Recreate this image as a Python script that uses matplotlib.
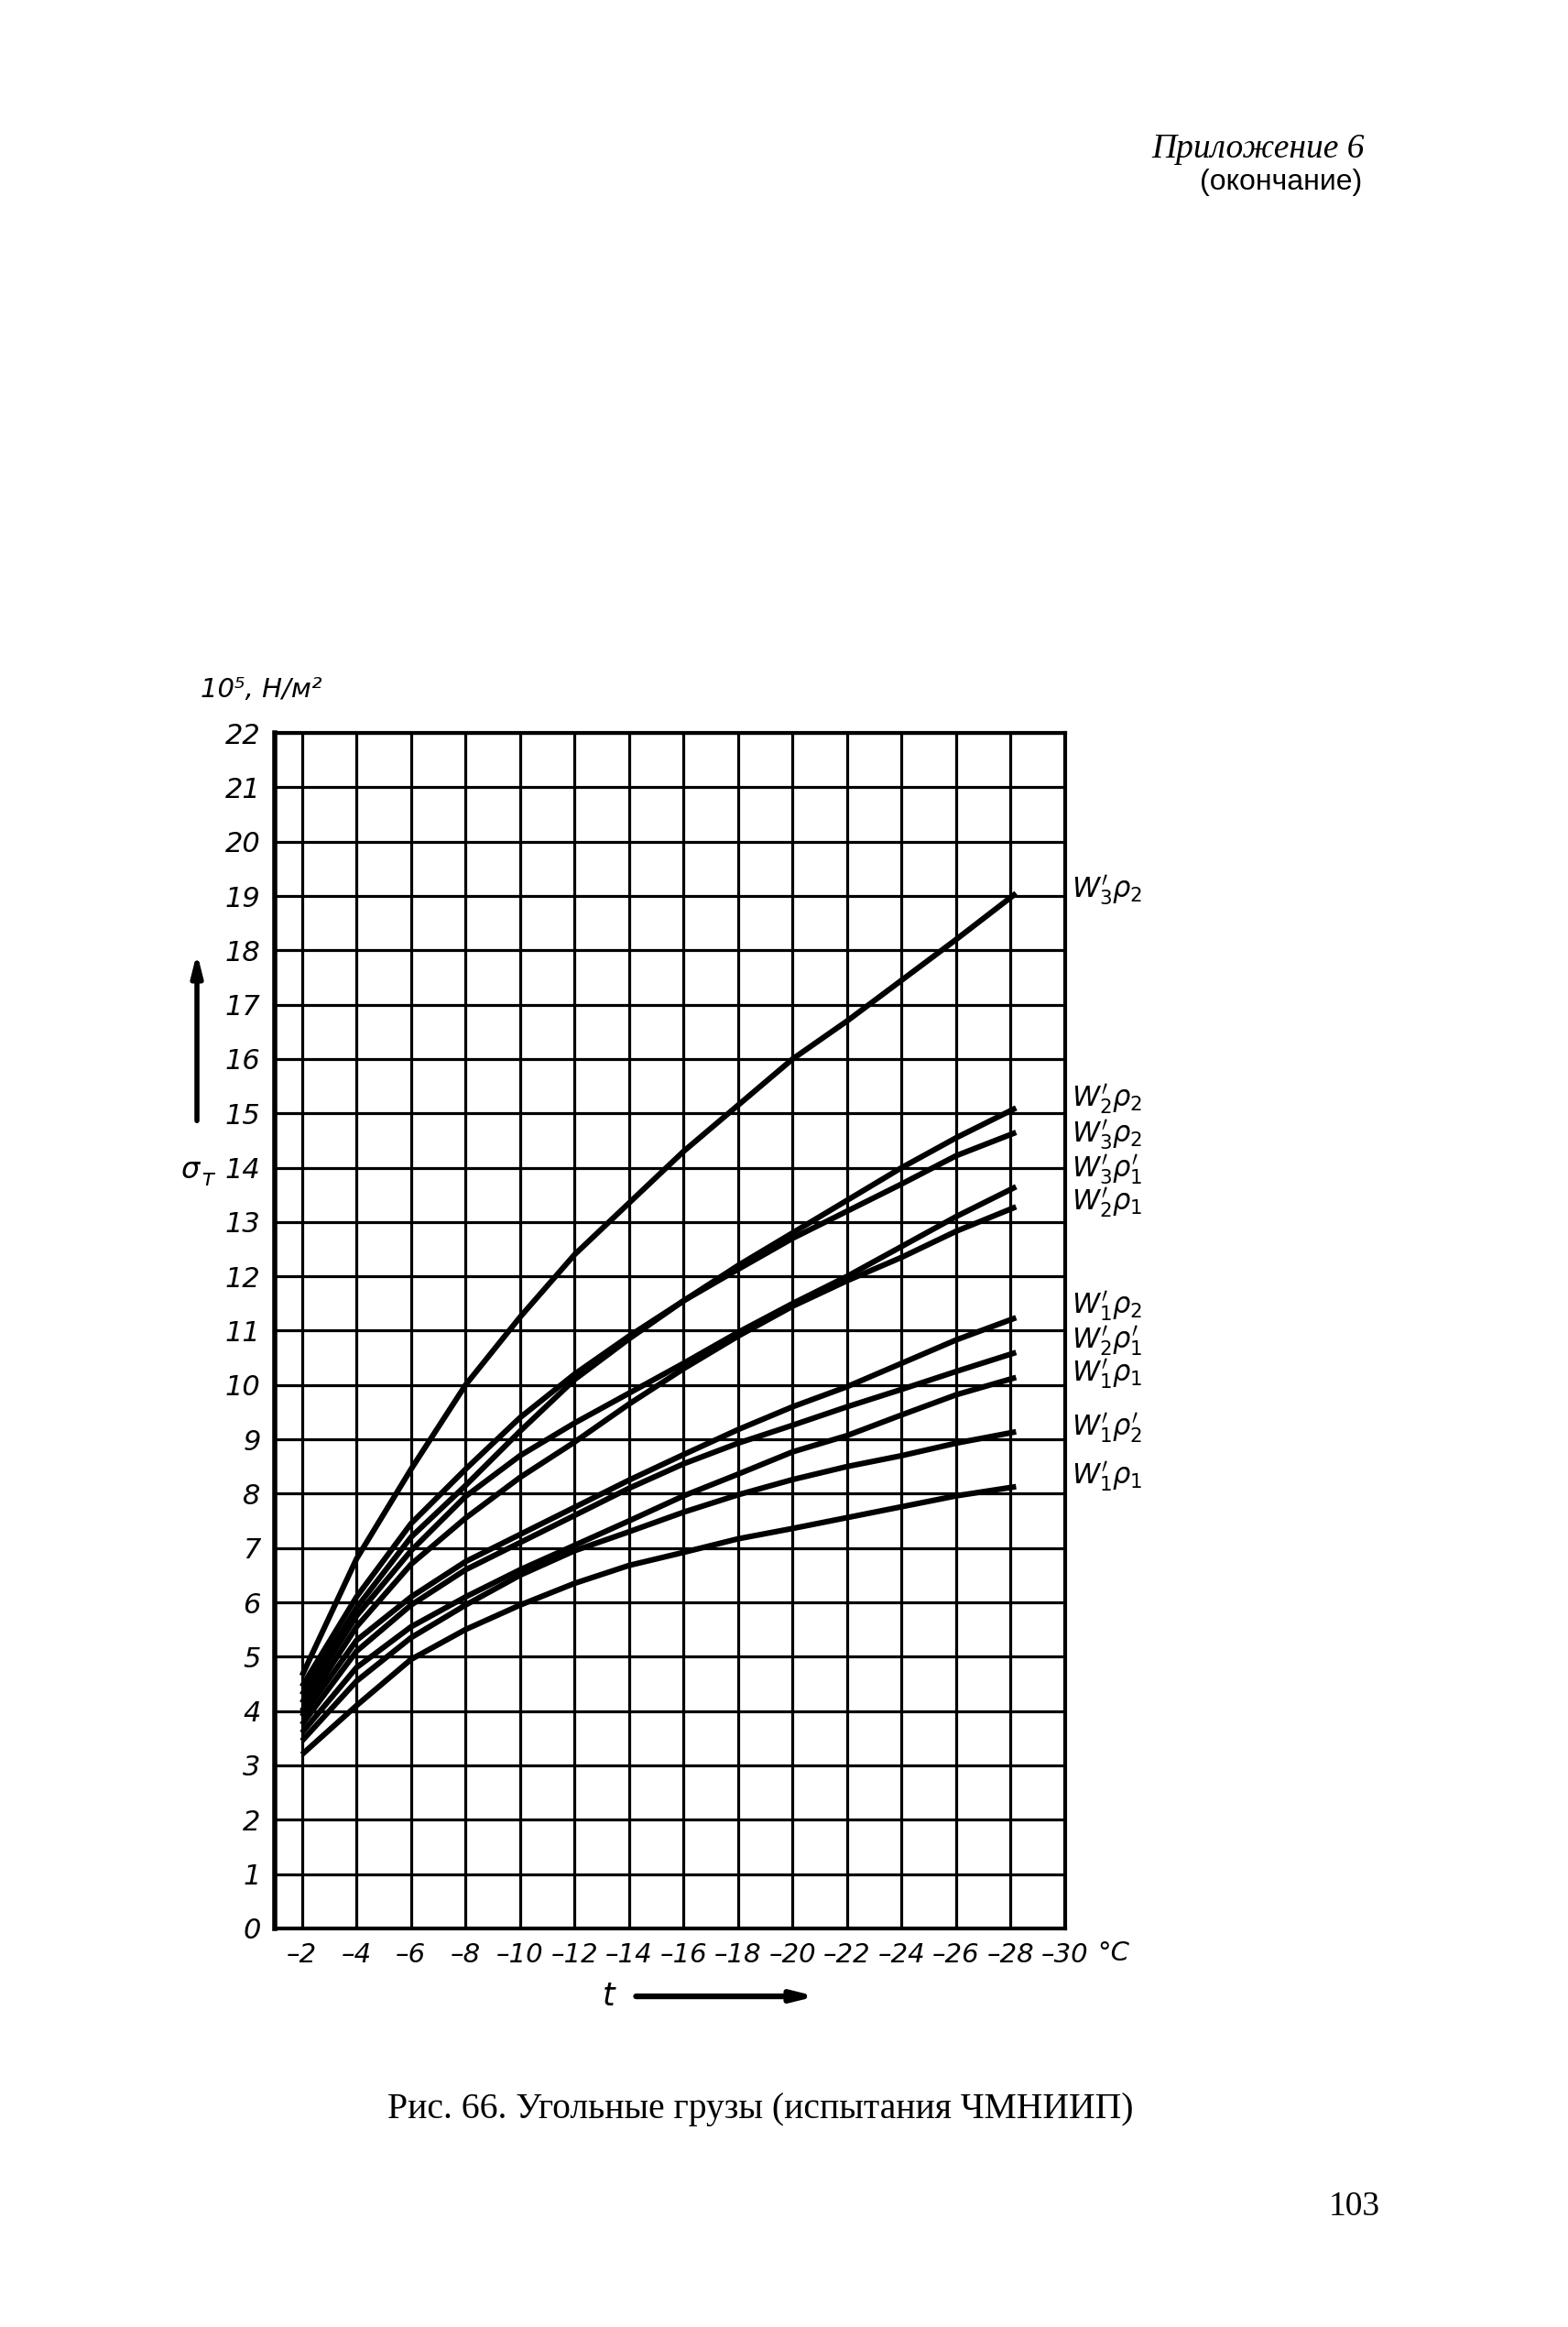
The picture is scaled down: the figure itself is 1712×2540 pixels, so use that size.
import matplotlib.pyplot as plt

# temperature, deg C (curves start at -2 and stop just past -28)
temps = [-2, -4, -6, -8, -10, -12, -14, -16, -18, -20, -22, -24, -26, -28.2]

# sigma_t, 10^5 N/m^2
w3p2_top = [4.65, 6.8, 8.45, 10.0, 11.25, 12.4, 13.35, 14.3, 15.15, 16.0, 16.7, 17.45, 18.2, 19.05]
w2p2 = [4.45, 6.1, 7.45, 8.45, 9.4, 10.2, 10.9, 11.55, 12.2, 12.8, 13.4, 14.0, 14.55, 15.1]
w3p2 = [4.3, 5.9, 7.2, 8.15, 9.15, 10.1, 10.85, 11.55, 12.13, 12.7, 13.2, 13.7, 14.22, 14.65]
w3p1s = [4.15, 5.75, 6.95, 7.95, 8.7, 9.3, 9.85, 10.4, 10.97, 11.5, 12.0, 12.55, 13.1, 13.65]
w2p1 = [4.0, 5.55, 6.7, 7.55, 8.3, 8.95, 9.65, 10.3, 10.9, 11.45, 11.92, 12.35, 12.83, 13.28]
w1p2 = [3.9, 5.3, 6.1, 6.75, 7.25, 7.75, 8.25, 8.72, 9.18, 9.6, 9.97, 10.4, 10.83, 11.24]
w2p1s = [3.75, 5.1, 5.95, 6.6, 7.1, 7.6, 8.1, 8.55, 8.93, 9.26, 9.6, 9.92, 10.25, 10.6]
w1p1_a = [3.6, 4.8, 5.55, 6.1, 6.6, 7.05, 7.5, 7.96, 8.36, 8.77, 9.07, 9.45, 9.82, 10.14]
w1p2s = [3.45, 4.55, 5.35, 5.95, 6.5, 6.95, 7.3, 7.66, 7.98, 8.26, 8.5, 8.7, 8.93, 9.14]
w1p1_b = [3.2, 4.1, 4.95, 5.5, 5.95, 6.35, 6.68, 6.92, 7.17, 7.36, 7.56, 7.76, 7.96, 8.13]

curves = [w3p2_top, w2p2, w3p2, w3p1s, w2p1, w1p2, w2p1s, w1p1_a, w1p2s, w1p1_b]
curve_labels = [r"$W^{\prime}_{3}\rho_{2}$", r"$W^{\prime}_{2}\rho_{2}$", r"$W^{\prime}_{3}\rho_{2}$",
                r"$W^{\prime}_{3}\rho^{\prime}_{1}$", r"$W^{\prime}_{2}\rho_{1}$", r"$W^{\prime}_{1}\rho_{2}$",
                r"$W^{\prime}_{2}\rho^{\prime}_{1}$", r"$W^{\prime}_{1}\rho_{1}$", r"$W^{\prime}_{1}\rho^{\prime}_{2}$",
                r"$W^{\prime}_{1}\rho_{1}$"]
label_y = [19.1, 15.25, 14.6, 13.95, 13.35, 11.45, 10.8, 10.2, 9.2, 8.3]

xticks = list(range(-2, -31, -2))
xtick_labels = ["\u2013" + str(-v) for v in xticks]
yticks = list(range(0, 23))

plt.rcParams['mathtext.fontset'] = 'dejavusans'

fig = plt.figure(figsize=(17.12, 25.40), dpi=100)
ax = fig.add_axes([0.1752, 0.1713, 0.5041, 0.5137])

for ys in curves:
    ax.plot(temps, ys, color="black", lw=4.4, solid_capstyle="butt", zorder=3)

ax.set_xlim(-1, -30)
ax.set_ylim(0, 22)
ax.set_xticks(xticks)
ax.set_xticklabels(xtick_labels, fontsize=21, fontstyle="italic")
ax.set_yticks(yticks)
ax.set_yticklabels([str(v) for v in yticks], fontsize=22, fontstyle="italic")
ax.tick_params(length=0, pad=11)
ax.grid(True, color="black", lw=2.3)
for s in ax.spines.values():
    s.set_linewidth(3)
    s.set_color("black")
ax.spines["left"].set_linewidth(4)

for lab, y in zip(curve_labels, label_y):
    ax.text(-30.25, y, lab, fontsize=22, ha="left", va="center", clip_on=False)

# header, caption, page number
fig.text(0.870, 0.936, "Приложение 6", family="Liberation Serif", style="italic",
         fontsize=27, ha="right", va="center")
fig.text(0.869, 0.9216, "(окончание)", family="Liberation Sans", fontsize=23,
         ha="right", va="center")
fig.text(0.485, 0.0937, "Рис. 66. Угольные грузы (испытания ЧМНИИП)",
         family="Liberation Serif", fontsize=28.5, ha="center", va="center")
fig.text(0.880, 0.0516, "103", family="Liberation Serif", fontsize=27,
         ha="right", va="center")

# axis annotations
fig.text(0.128, 0.7035, "10\u2075, Н/м\u00b2", fontsize=21, style="italic",
         ha="left", va="center")
fig.text(0.127, 0.4969, "σ", fontsize=23, style="italic", ha="right", va="center")
fig.text(0.128, 0.4935, "т", fontsize=18, style="italic", ha="left", va="center")
fig.text(0.700, 0.1606, "°C", fontsize=21, style="italic", ha="left", va="center")
fig.text(0.388, 0.1421, "t", fontsize=25, style="italic", ha="center", va="center")

ax.annotate("", xy=(0.1256, 0.5917), xytext=(0.1256, 0.5173), xycoords="figure fraction",
            arrowprops=dict(arrowstyle="-|>,head_length=1.4,head_width=0.35", lw=4, color="black"))
ax.annotate("", xy=(0.522, 0.1421), xytext=(0.404, 0.1421), xycoords="figure fraction",
            arrowprops=dict(arrowstyle="-|>,head_length=1.4,head_width=0.35", lw=4.5, color="black"))

fig.savefig("out.png", dpi=100, facecolor="white")
plt.close(fig)
